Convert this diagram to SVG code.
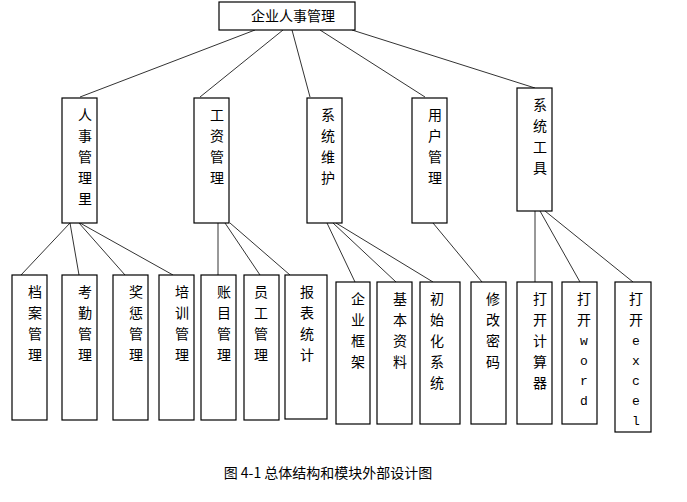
<svg xmlns="http://www.w3.org/2000/svg" width="687" height="502" viewBox="0 0 687 502">
<style>
rect{fill:#fff;stroke:#000;stroke-width:1.2}
#connectors line{stroke:#333;stroke-width:1}
text{font-family:"Noto Sans CJK SC","DejaVu Sans",sans-serif;font-size:14px;fill:#000;text-anchor:middle}
.m{font-family:"Liberation Mono",monospace;font-size:13px}
</style>
<rect x="0" y="0" width="687" height="502" style="fill:#fff;stroke:none"/>
<g id="connectors">
<line x1="255" y1="30" x2="80" y2="97"/>
<line x1="283" y1="30" x2="200" y2="97"/>
<line x1="292" y1="30" x2="310" y2="97"/>
<line x1="320" y1="30" x2="425" y2="97"/>
<line x1="352" y1="30" x2="535" y2="88"/>
<line x1="70" y1="223" x2="21" y2="275"/>
<line x1="70" y1="223" x2="79" y2="275"/>
<line x1="79" y1="223" x2="125" y2="275"/>
<line x1="80" y1="223" x2="173" y2="275"/>
<line x1="218" y1="223" x2="218" y2="275"/>
<line x1="225" y1="223" x2="260" y2="275"/>
<line x1="230" y1="223" x2="290" y2="275"/>
<line x1="327" y1="223" x2="355" y2="282"/>
<line x1="333" y1="223" x2="396" y2="282"/>
<line x1="336" y1="223" x2="433" y2="282"/>
<line x1="433" y1="223" x2="482" y2="282"/>
<line x1="535" y1="211" x2="535" y2="282"/>
<line x1="540" y1="211" x2="580" y2="282"/>
<line x1="545" y1="211" x2="633" y2="282"/>
</g>
<g id="root"><rect x="219" y="2" width="136" height="28"/><text x="293" y="21">企业人事管理</text></g>
<g id="n1"><rect x="62" y="98" width="35" height="125"/><text x="85" y="120">人</text><text x="85" y="141">事</text><text x="85" y="162">管</text><text x="85" y="183">理</text><text x="85" y="204">里</text></g>
<g id="n2"><rect x="194" y="98" width="35" height="125"/><text x="217" y="120">工</text><text x="217" y="141">资</text><text x="217" y="162">管</text><text x="217" y="183">理</text></g>
<g id="n3"><rect x="307" y="98" width="35" height="125"/><text x="328" y="120">系</text><text x="328" y="141">统</text><text x="328" y="162">维</text><text x="328" y="183">护</text></g>
<g id="n4"><rect x="412" y="98" width="35" height="125"/><text x="435" y="120">用</text><text x="435" y="141">户</text><text x="435" y="162">管</text><text x="435" y="183">理</text></g>
<g id="n5"><rect x="517" y="88" width="35" height="123"/><text x="540" y="110">系</text><text x="540" y="131">统</text><text x="540" y="152">工</text><text x="540" y="173">具</text></g>
<g id="a1"><rect x="12" y="275" width="35" height="145"/><text x="35" y="297">档</text><text x="35" y="318">案</text><text x="35" y="339">管</text><text x="35" y="360">理</text></g>
<g id="a2"><rect x="62" y="275" width="35" height="145"/><text x="85" y="297">考</text><text x="85" y="318">勤</text><text x="85" y="339">管</text><text x="85" y="360">理</text></g>
<g id="a3"><rect x="113" y="275" width="35" height="145"/><text x="136" y="297">奖</text><text x="136" y="318">惩</text><text x="136" y="339">管</text><text x="136" y="360">理</text></g>
<g id="a4"><rect x="159" y="275" width="35" height="145"/><text x="182" y="297">培</text><text x="182" y="318">训</text><text x="182" y="339">管</text><text x="182" y="360">理</text></g>
<g id="b1"><rect x="201" y="275" width="35" height="145"/><text x="224" y="297">账</text><text x="224" y="318">目</text><text x="224" y="339">管</text><text x="224" y="360">理</text></g>
<g id="b2"><rect x="244" y="275" width="35" height="145"/><text x="261" y="297">员</text><text x="261" y="318">工</text><text x="261" y="339">管</text><text x="261" y="360">理</text></g>
<g id="b3"><rect x="285" y="275" width="42" height="144"/><text x="307" y="297">报</text><text x="307" y="318">表</text><text x="307" y="339">统</text><text x="307" y="360">计</text></g>
<g id="c1"><rect x="336" y="282" width="34" height="142"/><text x="358" y="304">企</text><text x="358" y="325">业</text><text x="358" y="346">框</text><text x="358" y="367">架</text></g>
<g id="c2"><rect x="377" y="282" width="35" height="142"/><text x="400" y="304">基</text><text x="400" y="325">本</text><text x="400" y="346">资</text><text x="400" y="367">料</text></g>
<g id="c3"><rect x="420" y="282" width="40" height="142"/><text x="437" y="304">初</text><text x="437" y="325">始</text><text x="437" y="346">化</text><text x="437" y="367">系</text><text x="437" y="388">统</text></g>
<g id="d1"><rect x="471" y="282" width="35" height="142"/><text x="493" y="304">修</text><text x="493" y="325">改</text><text x="493" y="346">密</text><text x="493" y="367">码</text></g>
<g id="e1"><rect x="517" y="282" width="35" height="142"/><text x="540" y="304">打</text><text x="540" y="325">开</text><text x="540" y="346">计</text><text x="540" y="367">算</text><text x="540" y="388">器</text></g>
<g id="e2"><rect x="562" y="282" width="35" height="142"/><text x="584" y="304">打</text><text x="584" y="325">开</text><text class="m" x="584" y="345">w</text><text class="m" x="584" y="365">o</text><text class="m" x="584" y="385">r</text><text class="m" x="584" y="405">d</text></g>
<g id="e3"><rect x="615" y="282" width="36" height="150"/><text x="636" y="304">打</text><text x="636" y="325">开</text><text class="m" x="636" y="345">e</text><text class="m" x="636" y="365">x</text><text class="m" x="636" y="385">c</text><text class="m" x="636" y="405">e</text><text class="m" x="636" y="425">l</text></g>
<text x="328" y="478" style="font-size:14px">图 4-1 总体结构和模块外部设计图</text>
</svg>
